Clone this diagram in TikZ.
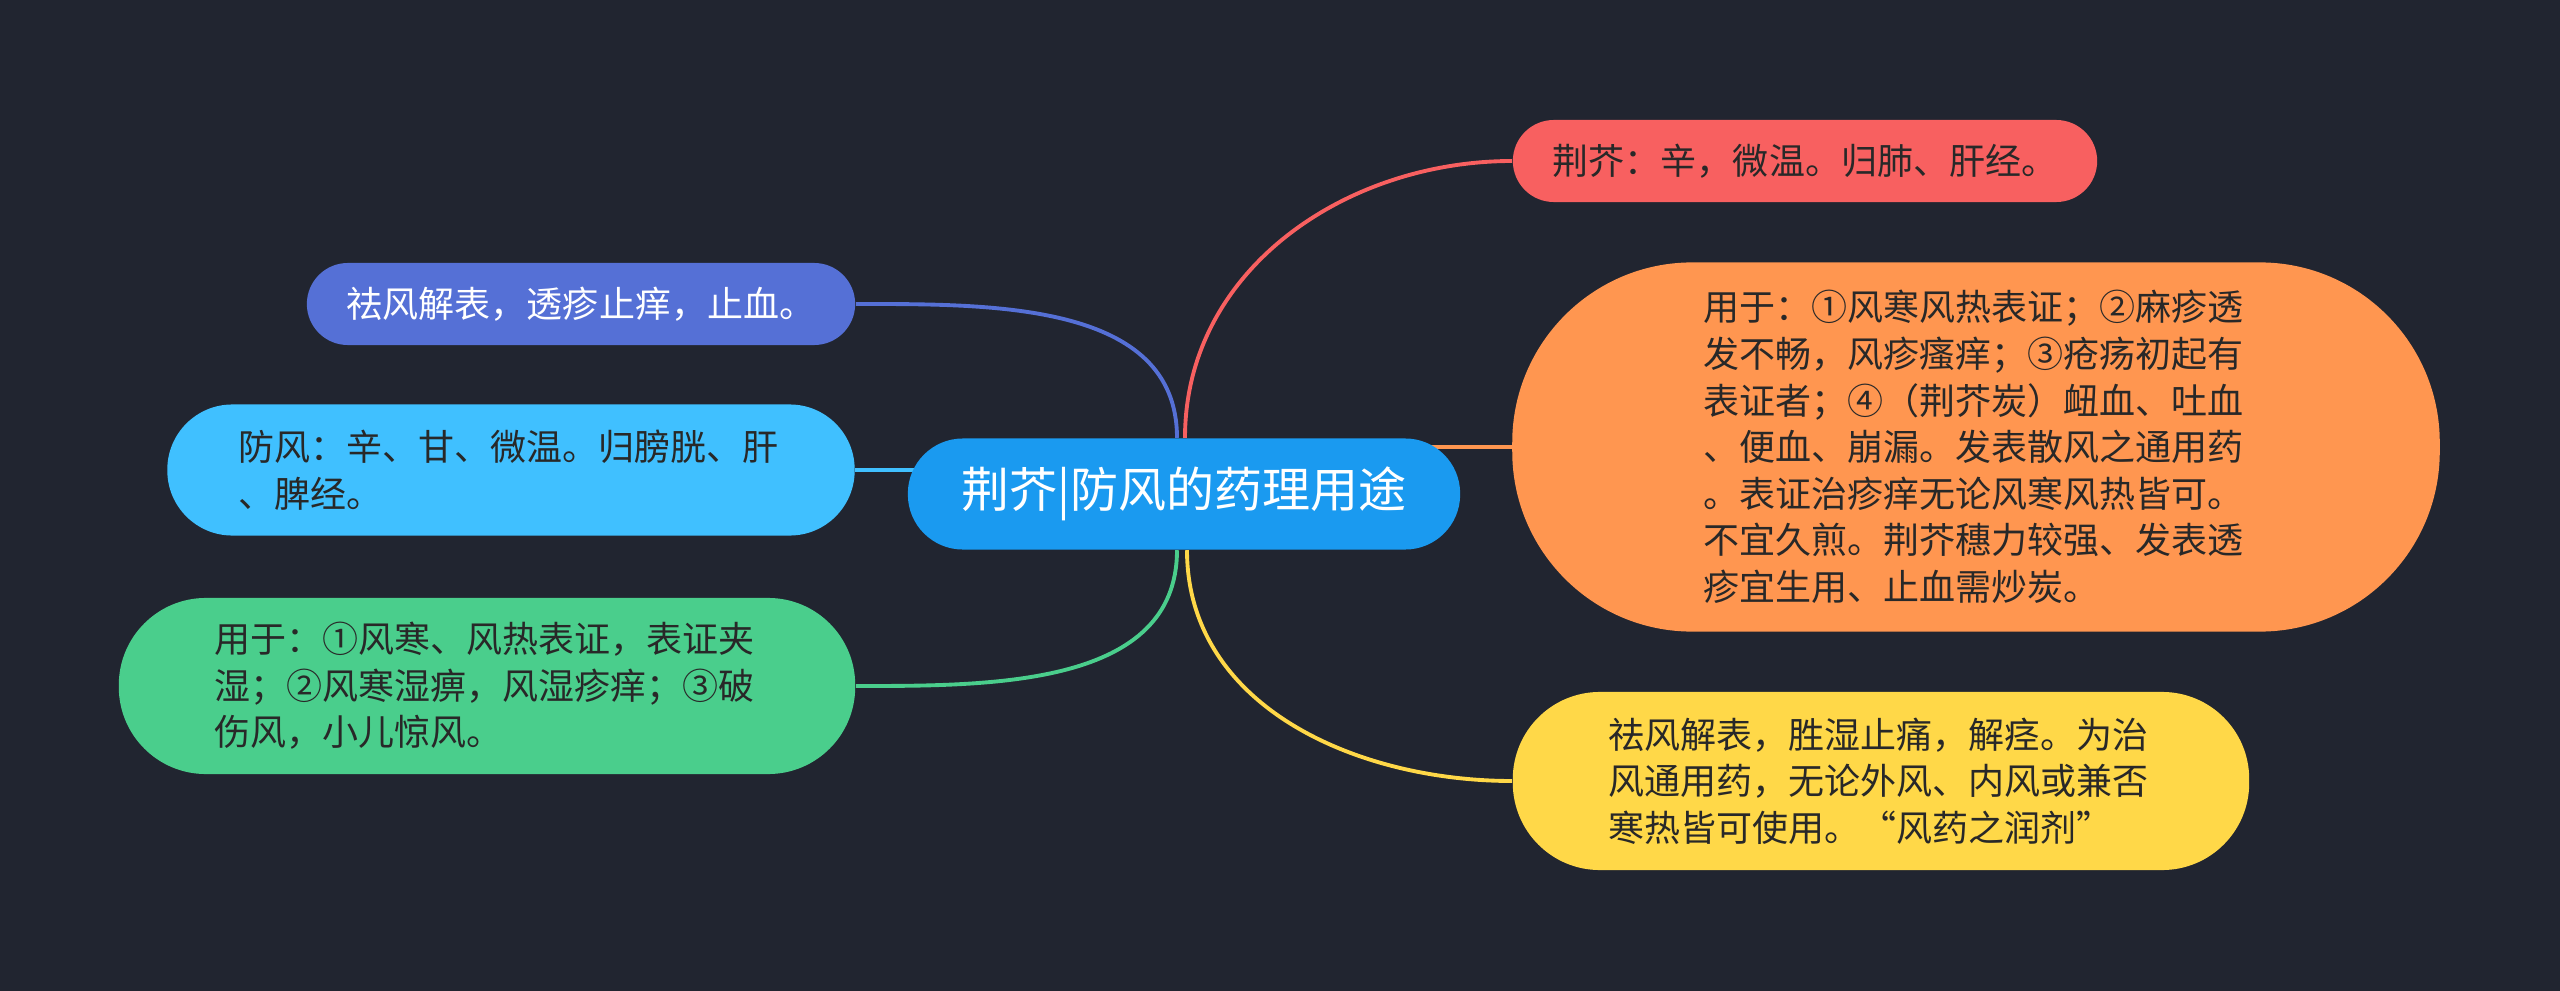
\documentclass[tikz,border=0pt]{standalone}
\usepackage{fontspec}
\usepackage{tikz}
\newfontfamily\cjk{Noto Sans CJK SC}
\definecolor{bgclr}{RGB}{33,37,48}
\definecolor{hubclr}{RGB}{26,154,240}
\definecolor{redclr}{RGB}{248,96,96}
\definecolor{orangeclr}{RGB}{255,150,80}
\definecolor{yellowclr}{RGB}{255,216,72}
\definecolor{indigoclr}{RGB}{85,112,214}
\definecolor{skyclr}{RGB}{64,192,255}
\definecolor{greenclr}{RGB}{74,206,140}
\definecolor{inkclr}{RGB}{40,40,40}
\pgfdeclarelayer{bg}
\pgfdeclarelayer{edges}
\pgfsetlayers{bg,edges,main}
\tikzset{
  topic/.style={rectangle,inner sep=0pt,align=left,text=inkclr,
                font=\cjk\fontsize{10.24pt}{13.26pt}\selectfont},
  hub/.style={rectangle,inner sep=0pt,fill=hubclr,text=white,
              font=\cjk\fontsize{13.66pt}{16pt}\selectfont,
              minimum width=5.52cm,minimum height=1.11cm,
              rounded corners=0.55cm},
  branch/.style={line width=1.1pt,draw=#1},
}

\begin{document}
\begin{tikzpicture}[x=0.01cm,y=-0.01cm,
    block/.style={topic,text width=5.45cm},
]
\useasboundingbox (0,0) rectangle (2560,991);
\begin{pgfonlayer}{bg}
\fill[bgclr] (0,0) rectangle (2560,991);
\end{pgfonlayer}

\node[hub] (root) at (1184,494) {荆芥|防风的药理用途};

\node[topic,fill=redclr,minimum width=5.84cm,minimum height=0.82cm,
      rounded corners=0.41cm] (jjTaste) at (1805,161)
  {荆芥：辛，微温。归肺、肝经。};
\node[block,fill=orangeclr,minimum width=9.27cm,minimum height=3.69cm,
      rounded corners=1.8cm] (jjUse) at (1976,447)
  {用于：①风寒风热表证；②麻疹透\\
   发不畅，风疹瘙痒；③疮疡初起有\\
   表证者；④（荆芥炭）衄血、吐血\\
   、便血、崩漏。发表散风之通用药\\
   。表证治疹痒无论风寒风热皆可。\\
   不宜久煎。荆芥穗力较强、发表透\\
   疹宜生用、止血需炒炭。};
\node[block,fill=yellowclr,minimum width=7.36cm,minimum height=1.78cm,
      rounded corners=0.87cm] (ffEffect) at (1881,781)
  {祛风解表，胜湿止痛，解痉。为治\\
   风通用药，无论外风、内风或兼否\\
   寒热皆可使用。“风药之润剂”};

\node[topic,fill=indigoclr,text=white,minimum width=5.48cm,
      minimum height=0.82cm,rounded corners=0.41cm] (jjEffect) at (581,304)
  {祛风解表，透疹止痒，止血。};
\node[block,fill=skyclr,minimum width=6.87cm,minimum height=1.31cm,
      rounded corners=0.65cm] (ffTaste) at (511,470)
  {防风：辛、甘、微温。归膀胱、肝\\
   、脾经。};
\node[block,fill=greenclr,minimum width=7.36cm,minimum height=1.76cm,
      rounded corners=0.87cm] (ffUse) at (487,686)
  {用于：①风寒、风热表证，表证夹\\
   湿；②风寒湿痹，风湿疹痒；③破\\
   伤风，小儿惊风。};

\begin{pgfonlayer}{edges}
\draw[branch=redclr] ([xshift=0.01cm]root.north) to[out=90,in=180] (jjTaste.west);
\draw[branch=orangeclr] (root.center |- jjUse.west) -- (jjUse.west);
\draw[branch=yellowclr] ([xshift=0.03cm]root.south) to[out=-90,in=180] (ffEffect.west);
\draw[branch=indigoclr] ([xshift=-0.07cm]root.north) to[out=90,in=0] (jjEffect.east);
\draw[branch=skyclr] (ffTaste.east) -- (ffTaste.east -| root.center);
\draw[branch=greenclr] ([xshift=-0.07cm]root.south) to[out=-90,in=0] (ffUse.east);
\end{pgfonlayer}
\end{tikzpicture}
\end{document}
